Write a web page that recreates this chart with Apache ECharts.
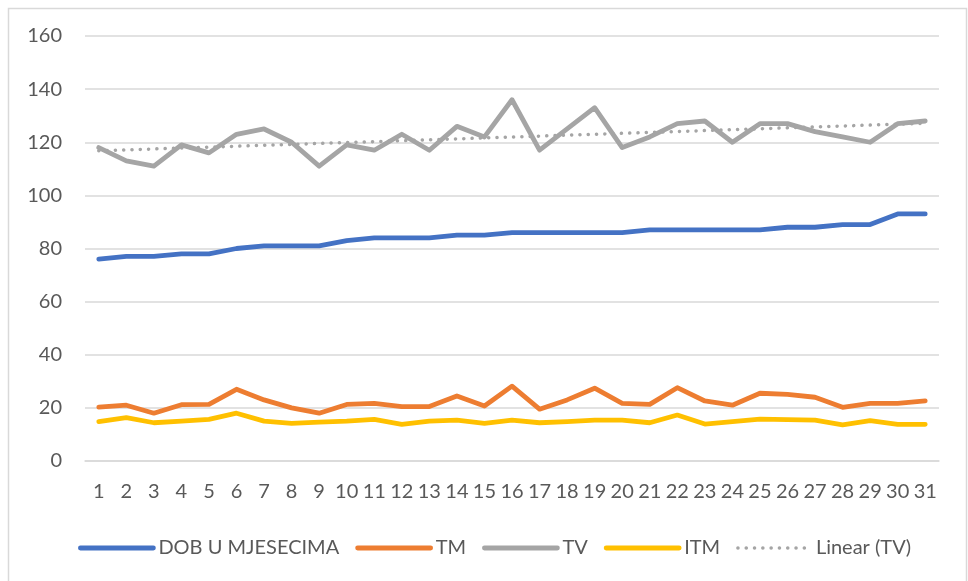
<!DOCTYPE html>
<html>
<head>
<meta charset="utf-8">
<script src="https://cdn.jsdelivr.net/npm/echarts@6/dist/echarts.min.js"></script>
<style>
  html, body { margin: 0; padding: 0; background: #fff; }
  #chart { width: 968px; height: 581px; }
</style>
</head>
<body>
<div id="chart"></div>
<script>
// 数据
var days = [];
for (var d = 1; d <= 31; d++) days.push(String(d));

var dob = [76, 77, 77, 78, 78, 80, 81, 81, 81, 83, 84, 84, 84, 85, 85, 86,
  86, 86, 86, 86, 87, 87, 87, 87, 87, 88, 88, 89, 89, 93, 93];
var tm = [20.3, 21, 18, 21.2, 21.3, 27, 23, 20, 18, 21.3, 21.7, 20.5, 20.5, 24.5, 20.7, 28.2,
  19.5, 23, 27.4, 21.7, 21.3, 27.6, 22.6, 21, 25.5, 25.1, 24, 20.2, 21.7, 21.7, 22.6];
var tv = [118, 113, 111, 119, 116, 123, 125, 120, 111, 119, 117, 123, 117, 126, 122, 136,
  117, 125, 133, 118, 122, 127, 128, 120, 127, 127, 124, 122, 120, 127, 128];
var itm = [14.8, 16.3, 14.4, 15, 15.7, 18, 15, 14.2, 14.6, 15, 15.7, 13.8, 15, 15.4, 14.2, 15.4,
  14.4, 14.8, 15.4, 15.4, 14.4, 17.3, 13.9, 14.8, 15.8, 15.6, 15.4, 13.6, 15.2, 13.8, 13.8];
var yTicks = [0, 20, 40, 60, 80, 100, 120, 140, 160];

// Linear (TV): least-squares trend of the TV series, like Excel's trendline
function linearTrend(arr) {
  var n = arr.length, sx = 0, sy = 0, sxy = 0, sxx = 0;
  for (var i = 0; i < n; i++) {
    sx += i; sy += arr[i]; sxy += i * arr[i]; sxx += i * i;
  }
  var b = (n * sxy - sx * sy) / (n * sxx - sx * sx);
  var a = (sy - b * sx) / n;
  return arr.map(function (v, i) { return +(a + b * i).toFixed(3); });
}
var tvTrend = linearTrend(tv);

var chart = echarts.init(document.getElementById('chart'));
var font = 'Lato, "Liberation Sans", sans-serif';
var dotted = [0.1, 8.2];

function lineSeries(name, data, color) {
  return {
    name: name,
    type: 'line',
    data: data,
    symbol: 'none',
    lineStyle: { color: color, width: 4.8, cap: 'round', join: 'round' },
    itemStyle: { color: color },
    emphasis: { disabled: true }
  };
}

var option = {
  animation: false,
  textStyle: { fontFamily: font },
  graphic: [{
    type: 'rect',
    shape: { x: 8.5, y: 8.5, width: 958, height: 590 },
    style: { fill: 'none', stroke: '#d9d9d9', lineWidth: 1.5 },
    silent: true
  }],
  grid: { left: 85, right: 29, top: 36, bottom: 120 },
  legend: {
    top: 533,
    left: 73,
    itemWidth: 73,
    itemHeight: 14,
    itemGap: 16,
    itemStyle: { opacity: 0 },
    lineStyle: { width: 4.8, cap: 'round' },
    textStyle: { fontSize: 20, color: '#595959', fontFamily: font },
    data: [
      'DOB U MJESECIMA', 'TM', 'TV', 'ITM',
      { name: 'Linear (TV)', lineStyle: { width: 3.5, type: dotted, cap: 'round' } }
    ]
  },
  xAxis: {
    type: 'category',
    data: days,
    boundaryGap: true,
    axisLine: { show: true, lineStyle: { color: '#d9d9d9', width: 1.5 } },
    axisTick: { show: false },
    axisLabel: { color: '#595959', fontSize: 20, margin: 21, interval: 0 }
  },
  yAxis: {
    type: 'value',
    min: yTicks[0],
    max: yTicks[yTicks.length - 1],
    interval: 20,
    axisLine: { show: false },
    axisTick: { show: false },
    axisLabel: { color: '#595959', fontSize: 20, margin: 23 },
    splitLine: { lineStyle: { color: '#d9d9d9', width: 1.5 } }
  },
  series: [
    lineSeries('DOB U MJESECIMA', dob, '#4472c4'),
    lineSeries('TM', tm, '#ed7d31'),
    lineSeries('TV', tv, '#a5a5a5'),
    lineSeries('ITM', itm, '#ffc000'),
    {
      name: 'Linear (TV)',
      type: 'line',
      data: tvTrend,
      symbol: 'none',
      z: 1,
      lineStyle: { color: '#a5a5a5', width: 3.5, type: dotted, cap: 'round' },
      itemStyle: { color: '#a5a5a5' },
      emphasis: { disabled: true }
    }
  ]
};

chart.setOption(option);
</script>
</body>
</html>
